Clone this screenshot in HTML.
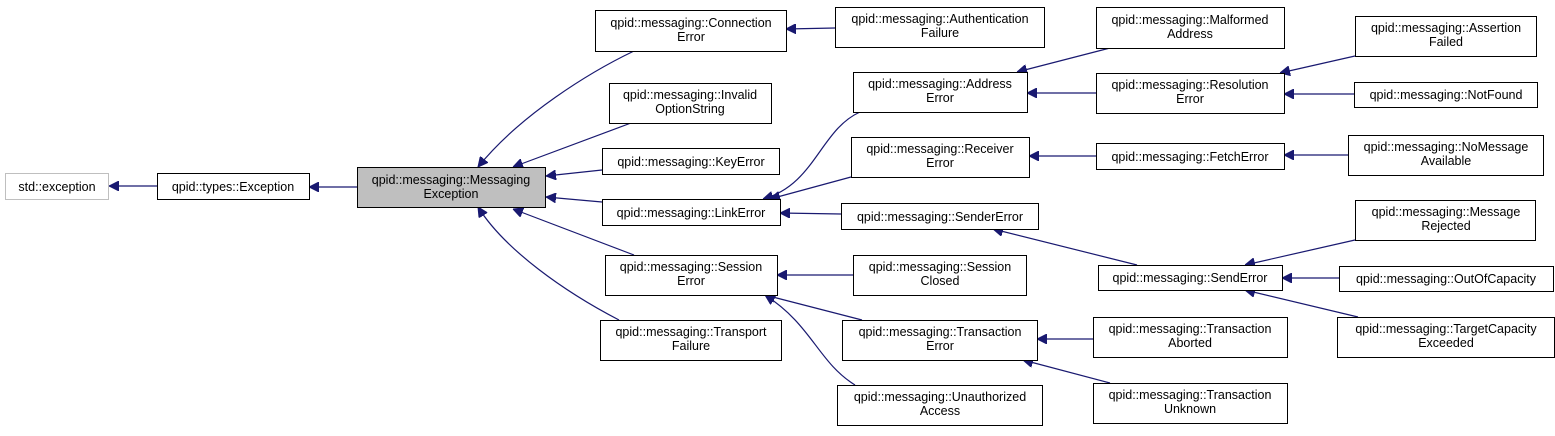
<!DOCTYPE html>
<html><head><meta charset="utf-8"><style>
html,body{margin:0;padding:0;background:#fff;}
svg text{font-family:"Liberation Sans",sans-serif;font-size:12.5px;fill:#000;text-anchor:middle;}
</style></head><body>
<svg width="1555" height="431" xmlns="http://www.w3.org/2000/svg">
<defs>
<marker id="a" viewBox="0 0 10 10" refX="10" refY="5" markerWidth="10" markerHeight="10" markerUnits="userSpaceOnUse" orient="auto">
<path d="M0,0 L10,5 L0,10 z" fill="#191970" stroke="#191970"/>
</marker>
</defs>
<g fill="none" stroke="#191970" stroke-width="1.2" marker-end="url(#a)">
<path d="M157,186 L109,186"/>
<path d="M357,187 L309,187"/>
<path d="M634,51 C590,72 520,115 478,167"/>
<path d="M631,123 L513,167"/>
<path d="M602,170 L546,176"/>
<path d="M602,202 L546,197"/>
<path d="M634,255 L513,209"/>
<path d="M619,320 C565,292 505,250 478,207"/>
<path d="M835,28 L786,29"/>
<path d="M860,112 C820,130 815,185 763,199"/>
<path d="M851,177 L770,199"/>
<path d="M841,214 L780,213"/>
<path d="M853,275 L777,275"/>
<path d="M862,320 L765,295"/>
<path d="M855,385 C818,362 812,325 765,295"/>
<path d="M1110,48 L1017,72"/>
<path d="M1096,93 L1027,93"/>
<path d="M1096,156 L1029,156"/>
<path d="M1137,265 L993,229"/>
<path d="M1093,339 L1037,339"/>
<path d="M1110,383 L1023,360"/>
<path d="M1355,56 L1280,73"/>
<path d="M1354,94 L1284,94"/>
<path d="M1348,155 L1284,155"/>
<path d="M1355,240 L1245,265"/>
<path d="M1339,278 L1282,278"/>
<path d="M1358,317 L1245,290"/>
</g>
<g stroke="#000" stroke-width="1" fill="#fff">
<rect x="5.5" y="173.5" width="103" height="26" stroke="#bfbfbf"/>
<rect x="157.5" y="173.5" width="152" height="26"/>
<rect x="357.5" y="167.5" width="188" height="40" fill="#bfbfbf"/>
<rect x="595.5" y="10.5" width="191" height="41"/>
<rect x="609.5" y="83.5" width="162" height="40"/>
<rect x="602.5" y="148.5" width="177" height="26"/>
<rect x="602.5" y="199.5" width="178" height="26"/>
<rect x="605.5" y="255.5" width="172" height="40"/>
<rect x="600.5" y="320.5" width="181" height="40"/>
<rect x="835.5" y="7.5" width="209" height="40"/>
<rect x="853.5" y="72.5" width="174" height="40"/>
<rect x="851.5" y="137.5" width="178" height="40"/>
<rect x="841.5" y="203.5" width="197" height="26"/>
<rect x="853.5" y="255.5" width="173" height="40"/>
<rect x="842.5" y="320.5" width="195" height="40"/>
<rect x="837.5" y="385.5" width="205" height="40"/>
<rect x="1096.5" y="7.5" width="188" height="41"/>
<rect x="1096.5" y="73.5" width="188" height="40"/>
<rect x="1096.5" y="143.5" width="188" height="26"/>
<rect x="1098.5" y="265.5" width="184" height="25"/>
<rect x="1093.5" y="317.5" width="194" height="40"/>
<rect x="1093.5" y="383.5" width="194" height="40"/>
<rect x="1355.5" y="16.5" width="181" height="40"/>
<rect x="1354.5" y="82.5" width="183" height="25"/>
<rect x="1348.5" y="135.5" width="195" height="40"/>
<rect x="1355.5" y="200.5" width="180" height="40"/>
<rect x="1339.5" y="266.5" width="214" height="25"/>
<rect x="1337.5" y="317.5" width="217" height="40"/>
</g>
<g>
<text x="57" y="191">std::exception</text>
<text x="233" y="191">qpid::types::Exception</text>
<text x="451" y="184">qpid::messaging::Messaging</text><text x="451" y="198">Exception</text>
<text x="691" y="27">qpid::messaging::Connection</text><text x="691" y="41">Error</text>
<text x="690" y="99">qpid::messaging::Invalid</text><text x="690" y="113">OptionString</text>
<text x="691" y="166">qpid::messaging::KeyError</text>
<text x="691" y="217">qpid::messaging::LinkError</text>
<text x="691" y="271">qpid::messaging::Session</text><text x="691" y="285">Error</text>
<text x="691" y="336">qpid::messaging::Transport</text><text x="691" y="350">Failure</text>
<text x="940" y="23">qpid::messaging::Authentication</text><text x="940" y="37">Failure</text>
<text x="940" y="88">qpid::messaging::Address</text><text x="940" y="102">Error</text>
<text x="940" y="153">qpid::messaging::Receiver</text><text x="940" y="167">Error</text>
<text x="940" y="221">qpid::messaging::SenderError</text>
<text x="940" y="271">qpid::messaging::Session</text><text x="940" y="285">Closed</text>
<text x="940" y="336">qpid::messaging::Transaction</text><text x="940" y="350">Error</text>
<text x="940" y="401">qpid::messaging::Unauthorized</text><text x="940" y="415">Access</text>
<text x="1190" y="24">qpid::messaging::Malformed</text><text x="1190" y="38">Address</text>
<text x="1190" y="89">qpid::messaging::Resolution</text><text x="1190" y="103">Error</text>
<text x="1190" y="161">qpid::messaging::FetchError</text>
<text x="1190" y="282">qpid::messaging::SendError</text>
<text x="1190" y="333">qpid::messaging::Transaction</text><text x="1190" y="347">Aborted</text>
<text x="1190" y="399">qpid::messaging::Transaction</text><text x="1190" y="413">Unknown</text>
<text x="1446" y="32">qpid::messaging::Assertion</text><text x="1446" y="46">Failed</text>
<text x="1446" y="99">qpid::messaging::NotFound</text>
<text x="1446" y="151">qpid::messaging::NoMessage</text><text x="1446" y="165">Available</text>
<text x="1446" y="216">qpid::messaging::Message</text><text x="1446" y="230">Rejected</text>
<text x="1446" y="283">qpid::messaging::OutOfCapacity</text>
<text x="1446" y="333">qpid::messaging::TargetCapacity</text><text x="1446" y="347">Exceeded</text>
</g>
</svg>
</body></html>
